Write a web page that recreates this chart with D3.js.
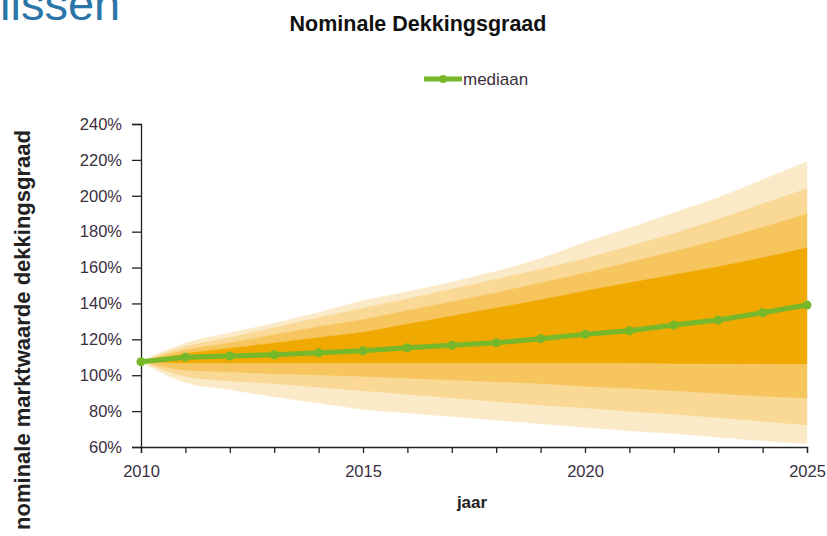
<!DOCTYPE html>
<html>
<head>
<meta charset="utf-8">
<script src="https://cdn.jsdelivr.net/npm/d3@7"></script>
<style>
  body { margin: 0; background: #fff; }
  svg { display: block; font-family: Arial, "Liberation Sans", sans-serif; }
</style>
</head>
<body>
<svg id="chart" width="827" height="536"></svg>
<script>
// Nominale dekkingsgraad fan chart

const years = d3.range(2010, 2026);
const median = [107.5, 110, 110.7, 111.4, 112.5, 113.6, 115.3, 116.7, 118.1, 120.3, 122.8, 124.8, 128, 130.8, 134.8, 139.1];

// band edges, outer to inner (values in %)
const hi3 = [107.5, 118, 123.5, 129, 135, 141.5, 146.5, 152, 158, 165, 174, 182, 190.5, 199, 209, 219];
const hi2 = [107.5, 116, 121, 126.5, 132, 137.5, 142.5, 148, 153.5, 159, 165, 172, 179, 187, 195.5, 204];
const hi1 = [107.5, 114, 118, 122.5, 127, 131, 136, 141, 146, 151.5, 157, 163, 169, 175.5, 182.5, 190];
const p75 = [107.5, 112, 115, 118, 121, 124, 128.5, 133, 137.5, 142, 147, 151.5, 156, 160.5, 165.5, 171];
const p25 = [107.5, 106.5, 106.5, 106.5, 106.5, 106.5, 106.5, 106.5, 106.5, 106.5, 106.5, 106.5, 106.3, 106.2, 106.1, 106];
const lo1 = [107.5, 102.5, 101.5, 100.5, 99.8, 99, 98, 97, 96, 95, 93.5, 92.5, 91, 89.5, 88, 87];
const lo2 = [107.5, 99, 96.5, 95, 93, 91, 89, 87, 85, 83, 81.5, 79.5, 78, 76, 74, 72];
const lo3 = [107.5, 96, 92, 88, 84.5, 81, 79, 77, 75, 73, 71, 69, 67.5, 65.5, 63.5, 62];

const yTicks = [60, 80, 100, 120, 140, 160, 180, 200, 220, 240];
const xLabels = [2010, 2015, 2020, 2025];

const bandColors = ["#fbeac8", "#f9d995", "#f6c55e", "#f0a900"];

const svg = d3.select("#chart");

const x = d3.scaleLinear().domain([2010, 2025]).range([141, 807]);
const y = d3.scaleLinear().domain([60, 240]).range([447, 124]);

// slide heading fragment
svg.append("text")
    .attr("x", 0).attr("y", 20)
    .attr("font-size", 47)
    .attr("fill", "#2b76a8")
    .text("lissen");

// chart title
svg.append("text")
    .attr("x", 418).attr("y", 31)
    .attr("text-anchor", "middle")
    .attr("font-size", 21.5).attr("font-weight", "bold")
    .attr("fill", "#111")
    .text("Nominale Dekkingsgraad");

// fan bands
const bands = [
    [hi3, hi2, 0], [hi2, hi1, 1], [hi1, p75, 2], [p75, p25, 3],
    [p25, lo1, 2], [lo1, lo2, 1], [lo2, lo3, 0]
];
const area = (top, bot) => d3.area()
    .x((d, i) => x(years[i]))
    .y0((d, i) => y(bot[i]))
    .y1((d, i) => y(top[i]))
    .curve(d3.curveMonotoneX)(years);

svg.append("g").selectAll("path")
    .data(bands)
    .join("path")
    .attr("d", d => area(d[0], d[1]))
    .attr("fill", d => bandColors[d[2]])
    .attr("stroke", d => bandColors[d[2]])
    .attr("stroke-width", 0.5);

// axes
const yAxis = svg.append("g")
    .attr("transform", "translate(141,0)")
    .call(d3.axisLeft(y).tickValues(yTicks).tickSize(9).tickPadding(10).tickFormat(d => d + "%"));
const xAxis = svg.append("g")
    .attr("transform", "translate(0,447)")
    .call(d3.axisBottom(x).tickValues(years).tickSize(6).tickPadding(12)
        .tickFormat(d => xLabels.includes(d) ? d : ""));
[yAxis, xAxis].forEach(g => {
    g.select(".domain").attr("stroke", "#222").attr("stroke-width", 1.3);
    g.selectAll(".tick line").attr("stroke", "#222").attr("stroke-width", 1.3);
    g.selectAll("text").attr("font-size", 16.5).attr("fill", "#3a2f3f")
        .attr("font-family", "Arial, 'Liberation Sans', sans-serif");
});

// median line
const line = d3.line()
    .x((d, i) => x(years[i]))
    .y(d => y(d));
svg.append("path")
    .attr("d", line(median))
    .attr("fill", "none")
    .attr("stroke", "#76b82a")
    .attr("stroke-width", 5);
svg.append("g").selectAll("circle")
    .data(median)
    .join("circle")
    .attr("cx", (d, i) => x(years[i]))
    .attr("cy", d => y(d))
    .attr("r", d => 4.5)
    .attr("fill", "#76b82a");

// legend
svg.append("line")
    .attr("x1", 424).attr("x2", 462).attr("y1", 79).attr("y2", 79)
    .attr("stroke", "#76b82a").attr("stroke-width", 5);
svg.append("circle").attr("cx", 443).attr("cy", 79).attr("r", 4).attr("fill", "#76b82a");
svg.append("text")
    .attr("x", 463).attr("y", 85)
    .attr("font-size", 17).attr("fill", "#3a2f3f")
    .text("mediaan");

// axis titles
svg.append("text")
    .attr("x", 472).attr("y", 508)
    .attr("text-anchor", "middle")
    .attr("font-size", 17).attr("font-weight", "bold")
    .attr("fill", "#222")
    .text("jaar");
svg.append("text")
    .attr("transform", "translate(30,330) rotate(-90)")
    .attr("text-anchor", "middle")
    .attr("font-size", 22).attr("font-weight", "bold")
    .attr("fill", "#222")
    .text("nominale marktwaarde dekkingsgraad");
</script>
</body>
</html>
